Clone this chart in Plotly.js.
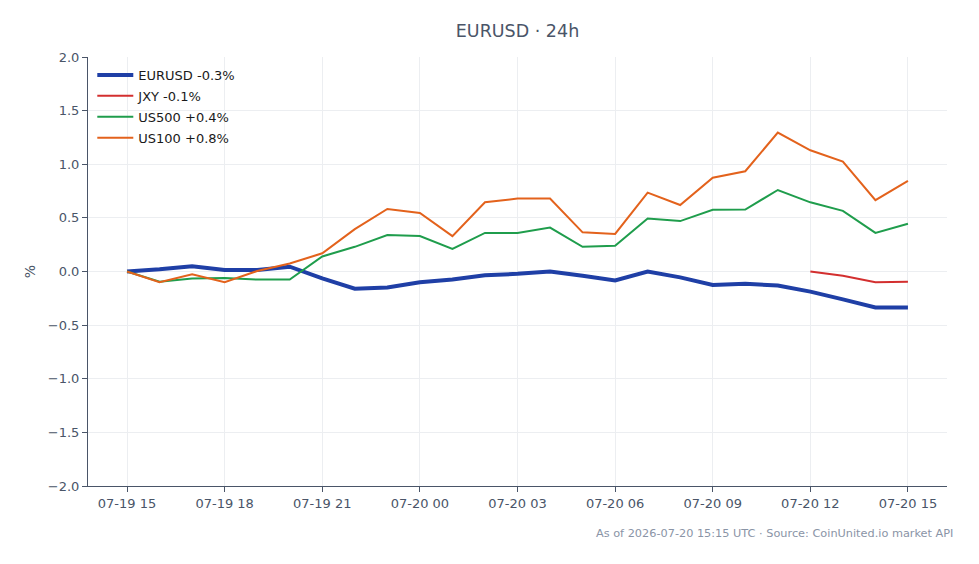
<!DOCTYPE html>
<html>
<head>
<meta charset="utf-8">
<script src="https://cdn.plot.ly/plotly-3.0.1.min.js"></script>
<style>
  html, body { margin: 0; padding: 0; background: #ffffff; }
  #chart { width: 979px; height: 564px; }
</style>
</head>
<body>
<div id="chart"></div>
<script>
// Hourly timestamps, 24h window
const times = [
  "2026-07-19 15:00", "2026-07-19 16:00", "2026-07-19 17:00", "2026-07-19 18:00",
  "2026-07-19 19:00", "2026-07-19 20:00", "2026-07-19 21:00", "2026-07-19 22:00",
  "2026-07-19 23:00", "2026-07-20 00:00", "2026-07-20 01:00", "2026-07-20 02:00",
  "2026-07-20 03:00", "2026-07-20 04:00", "2026-07-20 05:00", "2026-07-20 06:00",
  "2026-07-20 07:00", "2026-07-20 08:00", "2026-07-20 09:00", "2026-07-20 10:00",
  "2026-07-20 11:00", "2026-07-20 12:00", "2026-07-20 13:00", "2026-07-20 14:00",
  "2026-07-20 15:00"
];

// % change from window start
const eurusd = [0.00, 0.02, 0.05, 0.015, 0.015, 0.045, -0.065, -0.16, -0.15, -0.10,
  -0.075, -0.035, -0.022, 0.00, -0.04, -0.083, 0.00, -0.055, -0.125, -0.115,
  -0.13, -0.188, -0.26, -0.335, -0.335];

const jxyTimes = ["2026-07-20 12:00", "2026-07-20 13:00", "2026-07-20 14:00", "2026-07-20 15:00"];
const jxy = [0.00, -0.04, -0.10, -0.095];

const us500 = [0.00, -0.095, -0.065, -0.06, -0.075, -0.075, 0.14, 0.23, 0.34, 0.33,
  0.21, 0.36, 0.36, 0.41, 0.23, 0.24, 0.495, 0.47, 0.575, 0.578,
  0.76, 0.645, 0.565, 0.36, 0.445];

const us100 = [0.00, -0.10, -0.025, -0.10, 0.005, 0.075, 0.17, 0.395, 0.583, 0.545,
  0.33, 0.645, 0.68, 0.68, 0.365, 0.35, 0.735, 0.62, 0.875, 0.935,
  1.295, 1.13, 1.025, 0.665, 0.845];

const seriesNames = ["EURUSD -0.3%", "JXY -0.1%", "US500 +0.4%", "US100 +0.8%"];
const seriesColors = ["#1f3fa6", "#d32f2f", "#1f9d4c", "#e3621c"];

const font = "DejaVu Sans, sans-serif";

const traces = [
  { x: times, y: eurusd, name: seriesNames[0], mode: "lines", legendgroup: "g0",
    line: { color: seriesColors[0], width: 4 } },
  { x: jxyTimes, y: jxy, name: seriesNames[1], mode: "lines", legendgroup: "g1",
    line: { color: seriesColors[1], width: 2 } },
  { x: times, y: us500, name: seriesNames[2], mode: "lines", legendgroup: "g2",
    line: { color: seriesColors[2], width: 2 } },
  { x: times, y: us100, name: seriesNames[3], mode: "lines", legendgroup: "g3",
    line: { color: seriesColors[3], width: 2 } }
];

const layout = {
  width: 979,
  height: 564,
  margin: { l: 88, r: 32, t: 57, b: 78 },
  paper_bgcolor: "#ffffff",
  plot_bgcolor: "#ffffff",
  font: { family: font, size: 13, color: "#4a5568" },
  title: {
    text: "EURUSD · 24h",
    x: 0.5, xref: "paper", xanchor: "center",
    y: 0.945, yref: "container", yanchor: "middle",
    font: { family: font, size: 17.5, color: "#4a5568" }
  },
  showlegend: true,
  legend: {
    x: 0.005, y: 0.993, xanchor: "left", yanchor: "top",
    bgcolor: "rgba(255,255,255,0)",
    font: { family: font, size: 13, color: "#1a1a1a" },
    itemwidth: 36,
    tracegroupgap: 1
  },
  xaxis: {
    type: "date",
    range: ["2026-07-19 13:48", "2026-07-20 16:12"],
    dtick: 3 * 3600 * 1000,
    tick0: "2026-07-19 15:00",
    tickformat: "%m-%d %H",
    showgrid: true, gridcolor: "#eceef1", gridwidth: 1,
    showline: true, linecolor: "#4a5568", linewidth: 1,
    ticks: "outside", ticklen: 5, tickcolor: "#4a5568",
    zeroline: false,
    tickfont: { family: font, size: 13, color: "#4a5568" }
  },
  yaxis: {
    range: [-2, 2],
    dtick: 0.5,
    tickformat: ".1f",
    title: { text: "%", font: { family: font, size: 14, color: "#4a5568" }, standoff: 8 },
    showgrid: true, gridcolor: "#eceef1", gridwidth: 1,
    showline: true, linecolor: "#4a5568", linewidth: 1,
    ticks: "outside", ticklen: 5, tickcolor: "#4a5568",
    zeroline: false,
    tickfont: { family: font, size: 13, color: "#4a5568" }
  },
  shapes: [
    { type: "line", xref: "paper", x0: 0, x1: 1, yref: "y", y0: 0, y1: 0,
      line: { color: "#8f9bb8", width: 1, dash: "dash" }, layer: "below" }
  ],
  annotations: [
    { text: "As of 2026-07-20 15:15 UTC · Source: CoinUnited.io market API",
      xref: "paper", yref: "paper", x: 1.0093, y: -0.091,
      xanchor: "right", yanchor: "top", showarrow: false,
      font: { family: font, size: 11.3, color: "#8a94a6" } }
  ]
};

Plotly.newPlot("chart", traces, layout, { displayModeBar: false, staticPlot: true });
</script>
</body>
</html>
